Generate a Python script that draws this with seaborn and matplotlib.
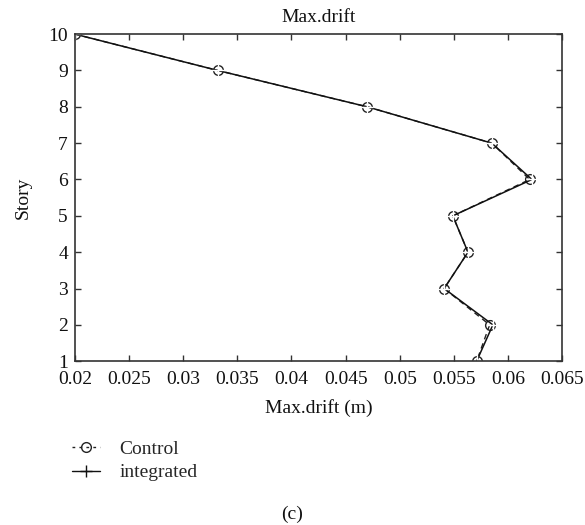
import matplotlib
matplotlib.use("Agg")
import matplotlib.pyplot as plt
from matplotlib.lines import Line2D
import seaborn as sns
import pandas as pd

stories = [10, 9, 8, 7, 6, 5, 4, 3, 2, 1]
control = [0.0200, 0.0332, 0.0470, 0.0585, 0.0620, 0.0549, 0.0563, 0.0541, 0.0583, 0.0571]
integrated = [0.0200, 0.0332, 0.0470, 0.0585, 0.0622, 0.0549, 0.0563, 0.0541, 0.0586, 0.0571]
xticks = [0.02, 0.025, 0.03, 0.035, 0.04, 0.045, 0.05, 0.055, 0.06, 0.065]
xticklabels = ["0.02", "0.025", "0.03", "0.035", "0.04", "0.045", "0.05", "0.055", "0.06", "0.065"]
yticks = list(range(1, 11))
series_labels = ["Control", "integrated"]

sns.set_theme(style="ticks")
plt.rcParams['font.family'] = ['Liberation Serif', 'DejaVu Serif']
FS = 14

df_c = pd.DataFrame({"drift": control, "story": stories})
df_i = pd.DataFrame({"drift": integrated, "story": stories})

fig = plt.figure(figsize=(5.85, 5.25), dpi=100)
ax = fig.add_axes([0.128, 0.312, 0.833, 0.623])

sns.lineplot(data=df_c, x="drift", y="story", sort=False, estimator=None, ax=ax,
             color="#222222", linestyle=(0, (4, 3)), linewidth=1.0, marker="o",
             markersize=7, markerfacecolor="none", markeredgecolor="#222222",
             markeredgewidth=1.0, legend=False)
sns.lineplot(data=df_i, x="drift", y="story", sort=False, estimator=None, ax=ax,
             color="#111111", linestyle="-", linewidth=1.1, marker="+",
             markersize=9, markeredgewidth=1.0, legend=False)

ax.set_xlim(0.02, 0.065)
ax.set_ylim(1, 10)
ax.set_xticks(xticks)
ax.set_xticklabels(xticklabels)
ax.set_yticks(yticks)
for s in ax.spines.values():
    s.set_visible(True)
    s.set_color("#333333")
    s.set_linewidth(1.2)
ax.tick_params(direction="in", top=True, right=True, labeltop=False, labelright=False,
               length=4, width=1, colors="#333333", labelsize=FS, labelcolor="#111111")
ax.tick_params(axis="x", pad=7)
ax.tick_params(axis="y", pad=5)
ax.set_xlabel("Max.drift (m)", fontsize=FS, color="#111111", labelpad=8)
ax.set_ylabel("Story", fontsize=FS, color="#111111", labelpad=12)
ax.set_title("Max.drift", fontsize=FS, color="#111111", pad=9)

handles = [
    Line2D([], [], color="#222222", linestyle=(0, (2.0, 3.0)), linewidth=1.0, marker="o",
           markersize=7, markerfacecolor="none", markeredgewidth=1.0),
    Line2D([], [], color="#111111", linestyle="-", linewidth=1.0, marker="+",
           markersize=9, markeredgewidth=1.0),
]
fig.legend(handles, series_labels, loc="upper left", bbox_to_anchor=(0.109, 0.176),
           frameon=False, fontsize=FS, handlelength=1.45, handletextpad=1.0,
           labelspacing=0.3, borderaxespad=0)

fig.text(0.5, 0.003, "(c)", ha="center", va="bottom", fontsize=FS, color="#111111")

fig.savefig("out.png", dpi=100)
